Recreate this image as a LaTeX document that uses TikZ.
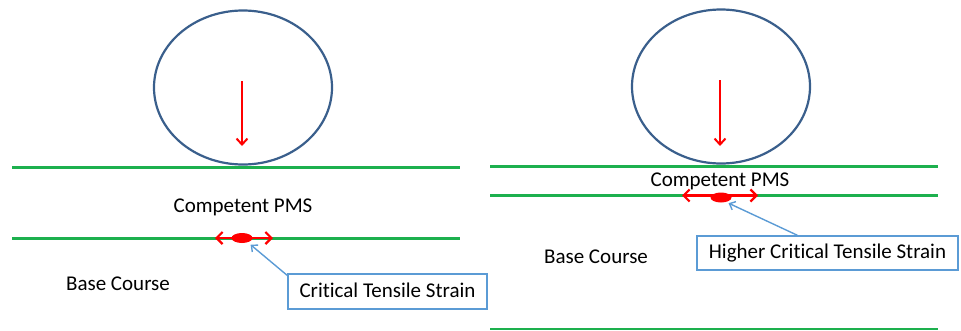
\documentclass[tikz,border=0pt]{standalone}
\usepackage{fontspec}
\setmainfont[Ligatures=NoCommon]{Carlito}
\usetikzlibrary{arrows.meta,shapes.geometric,calc}
\definecolor{wheelblue}{HTML}{3A5F8C}
\definecolor{layergreen}{HTML}{1DB04E}
\definecolor{callblue}{HTML}{5B9BD5}
\tikzset{
  wheel/.style={draw=wheelblue,line width=2.2pt,ellipse,minimum width=178pt,minimum height=154pt,inner sep=0pt},
  layer/.style={draw=layergreen,line width=3pt},
  load/.style={draw=red,line width=2pt,-{Straight Barb[length=6pt,width=11pt,line width=2pt]}},
  strain/.style={draw=red,line width=2.4pt,{Straight Barb[length=6pt,width=12pt,line width=2.2pt]}-{Straight Barb[length=6pt,width=12pt,line width=2.2pt]}},
  blob/.style={fill=red,ellipse,minimum width=21pt,minimum height=10pt,inner sep=0pt},
  lbl/.style={font=\fontsize{21pt}{24pt}\selectfont,inner sep=0pt},
  callout/.style={draw=callblue,line width=1.5pt,font=\fontsize{21pt}{24pt}\selectfont,inner sep=0pt,text height=15pt,text depth=4pt},
  pointer/.style={draw=callblue,line width=1.4pt,-{Straight Barb[length=5pt,width=9pt,line width=1.4pt]}}
}
\begin{document}
\begin{tikzpicture}[x=1pt,y=-1pt]
\useasboundingbox (0,0) rectangle (961,330);
% ---------- left panel ----------
\node[wheel] (wL) at (243,87.5) {};
\coordinate (l1a) at (12,167); \coordinate (l1b) at (460,167);
\coordinate (l2a) at (12,238); \coordinate (l2b) at (460,238);
\draw[layer] (l1a) -- (l1b);
\draw[layer] (l2a) -- (l2b);
\coordinate (ldA) at (242,81); \coordinate (ldB) at (242,146);
\draw[load] (ldA) -- (ldB);
\node[lbl] (pmsL) at (243,207) {Competent PMS};
\node[lbl] (baseL) at (118,284) {Base Course};
\coordinate (sLa) at (215,238); \coordinate (sLb) at (273,238);
\draw[strain] (sLa) -- (sLb);
\node[blob] (bL) at (242,238) {};
\node[callout,minimum width=199pt,minimum height=35pt] (cL) at (387.5,291.5) {Critical Tensile Strain};
\draw[pointer] ($(cL.north west)+(1,3)$) -- ($(bL.south east)+(1,3)$);
% ---------- right panel ----------
\node[wheel] (wR) at (721,86.5) {};
\coordinate (r1a) at (490,166.5); \coordinate (r1b) at (938,166.5);
\coordinate (r2a) at (490,195.5); \coordinate (r2b) at (938,195.5);
\coordinate (r3a) at (490,329); \coordinate (r3b) at (938,329);
\draw[layer] (r1a) -- (r1b);
\draw[layer] (r2a) -- (r2b);
\draw[draw=layergreen,line width=1.5pt] (r3a) -- (r3b);
\coordinate (rdA) at (720,80); \coordinate (rdB) at (720,146);
\draw[load] (rdA) -- (rdB);
\node[lbl] (pmsR) at (720,181) {Competent PMS};
\node[lbl] (baseR) at (596,257) {Base Course};
\coordinate (sRa) at (682,195.5); \coordinate (sRb) at (758,195.5);
\draw[strain] (sRa) -- (sRb);
\node[blob] (bR) at (721,197.5) {};
\node[callout,minimum width=261pt,minimum height=34pt] (cR) at (827.5,253) {Higher Critical Tensile Strain};
\draw[pointer] ($(cR.north west)!0.385!(cR.north east)$) -- ($(bR.south east)+(0,2)$);
\end{tikzpicture}
\end{document}
